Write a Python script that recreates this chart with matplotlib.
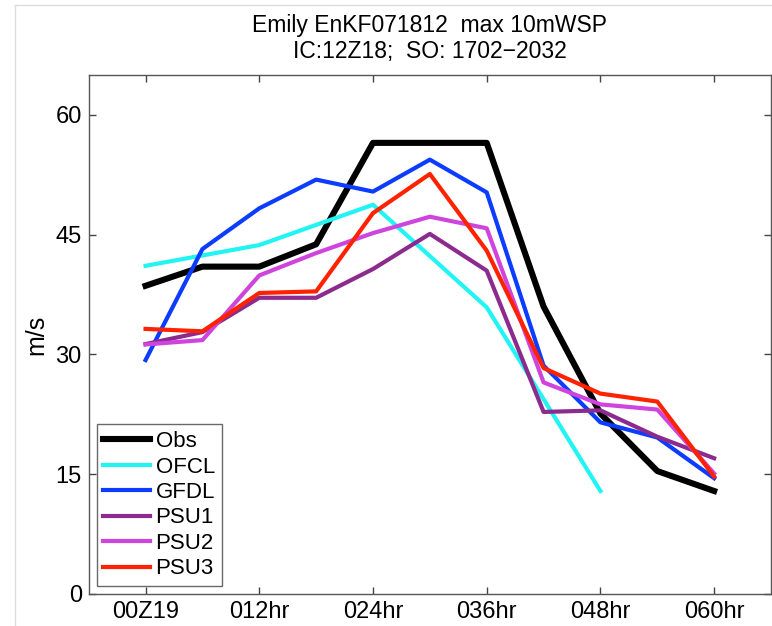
import matplotlib
matplotlib.use("Agg")
import matplotlib.pyplot as plt
from matplotlib.lines import Line2D

plt.rcParams['font.family'] = ['Liberation Sans', 'DejaVu Sans']

hours = [0, 6, 12, 18, 24, 30, 36, 42, 48, 54, 60]
ofcl_hours = [0, 12, 24, 36, 48]
obs = [38.6, 41.0, 41.0, 43.8, 56.5, 56.5, 56.5, 36.0, 22.6, 15.4, 12.9]
ofcl = [41.1, 43.7, 48.75, 35.9, 12.9]
gfdl = [29.3, 43.2, 48.3, 51.9, 50.4, 54.4, 50.3, 28.6, 21.5, 19.6, 14.5]
psu1 = [31.3, 32.8, 37.1, 37.1, 40.7, 45.1, 40.5, 22.8, 23.0, 19.7, 17.0]
psu2 = [31.25, 31.8, 39.9, 42.7, 45.2, 47.25, 45.8, 26.5, 23.75, 23.1, 15.1]
psu3 = [33.2, 32.9, 37.7, 37.9, 47.7, 52.6, 43.0, 28.3, 25.1, 24.1, 14.7]

xtick_pos = [0, 12, 24, 36, 48, 60]
xtick_labels = ['00Z19', '012hr', '024hr', '036hr', '048hr', '060hr']
ytick_pos = [0, 15, 30, 45, 60]

fig = plt.figure(figsize=(7.72, 6.26), dpi=100)
ax = fig.add_axes([88.7/772, 32/626, (771-88.7)/772, (594-75)/626])

ax.plot(hours, obs, color='black', lw=4.4, label='Obs')
ax.plot(ofcl_hours, ofcl, color='#22f4f4', lw=3.0, label='OFCL')
ax.plot(hours, gfdl, color='#0b3cff', lw=3.0, label='GFDL')
ax.plot(hours, psu1, color='#8c2a8e', lw=3.0, label='PSU1')
ax.plot(hours, psu2, color='#cf44dd', lw=3.0, label='PSU2')
ax.plot(hours, psu3, color='#ff2200', lw=3.0, label='PSU3')

ax.set_xlim(-6, 66)
ax.set_ylim(0, 65)
ax.set_xticks(xtick_pos)
ax.set_xticklabels(xtick_labels)
ax.set_yticks(ytick_pos)
ax.tick_params(direction='in', length=5, width=1, color='#444444',
               labelsize=17, top=True, right=True, pad=5)
for s in ax.spines.values():
    s.set_color('#555555')
    s.set_linewidth(1.0)

ax.set_ylabel('m/s', fontsize=18, labelpad=5)
ax.set_title('Emily EnKF071812  max 10mWSP\nIC:12Z18;  SO: 1702\u22122032',
             fontsize=16.5, pad=12, linespacing=1.2)

leg = ax.legend(loc='lower left', fontsize=16, frameon=True, fancybox=False,
                handlelength=2.1, handletextpad=0.25, labelspacing=0.2,
                borderpad=0.3, borderaxespad=0.36)
leg.get_frame().set_edgecolor('#444444')
leg.get_frame().set_linewidth(1.0)

fig.add_artist(Line2D([15/772, 15/772], [0, 1 - 5/626], transform=fig.transFigure,
                      color='#dddddd', lw=1))
fig.add_artist(Line2D([15/772, 1], [1 - 5/626, 1 - 5/626], transform=fig.transFigure,
                      color='#dddddd', lw=1))

fig.savefig('out.png', dpi=100)
